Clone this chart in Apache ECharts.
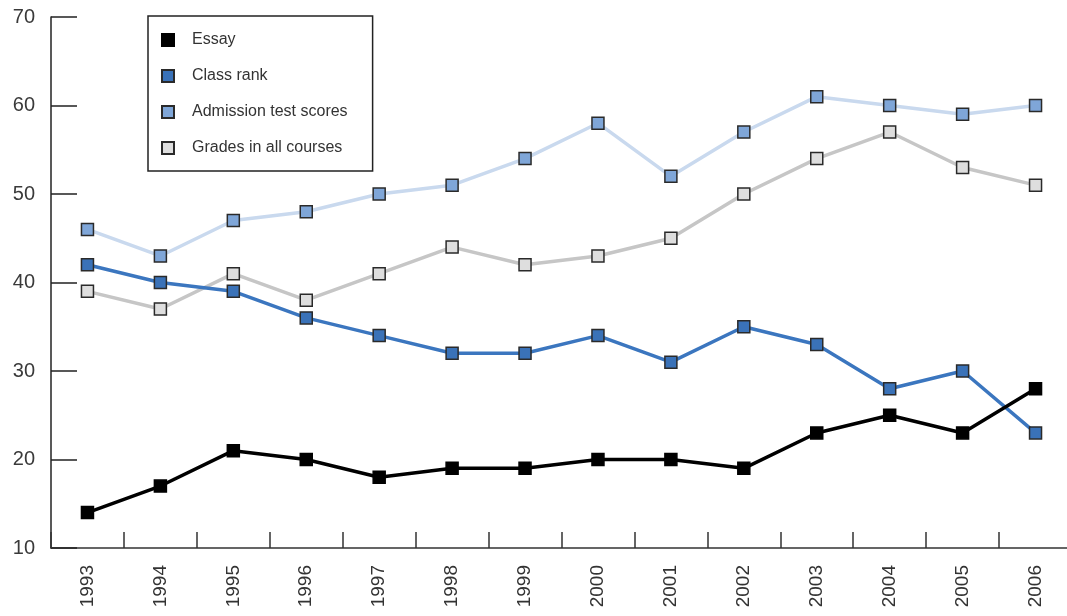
<!DOCTYPE html>
<html>
<head>
<meta charset="utf-8">
<title>Admission factors</title>
<script src="https://cdn.jsdelivr.net/npm/echarts@6/dist/echarts.min.js"></script>
<style>
  html, body { margin: 0; padding: 0; background: #fff; overflow: hidden; }
  #chart { width: 1072px; height: 616px; }
</style>
</head>
<body>
<div id="chart"></div>
<script>
var years = ['1993','1994','1995','1996','1997','1998','1999','2000','2001','2002','2003','2004','2005','2006'];
var essay = [14, 17, 21, 20, 18, 19, 19, 20, 20, 19, 23, 25, 23, 28];
var classRank = [42, 40, 39, 36, 34, 32, 32, 34, 31, 35, 33, 28, 30, 23];
var admissionTest = [46, 43, 47, 48, 50, 51, 54, 58, 52, 57, 61, 60, 59, 60];
var grades = [39, 37, 41, 38, 41, 44, 42, 43, 45, 50, 54, 57, 53, 51];

// chart is a few px wider than the window so the last category boundary falls off the edge
var myChart = echarts.init(document.getElementById('chart'));

function mkSeries(name, data, lineColor, fill, border, z) {
    return {
        name: name,
        type: 'line',
        data: data,
        symbol: 'rect',
        symbolSize: 12,
        z: z,
        lineStyle: { color: lineColor, width: 3.5 },
        itemStyle: { color: fill, borderColor: border, borderWidth: 1.5 },
        emphasis: { disabled: true }
    };
}

var option = {
    animation: false,
    textStyle: { fontFamily: 'Liberation Sans, Arial, sans-serif' },
    grid: { left: 51, right: 0, top: 17, bottom: 68, containLabel: false },
    legend: {
        orient: 'vertical',
        left: 148,
        top: 16,
        padding: [16, 25, 15, 13],
        itemGap: 20,
        itemWidth: 12,
        itemHeight: 12,
        icon: 'rect',
        borderColor: '#222',
        borderWidth: 1.5,
        textStyle: { fontSize: 16, color: '#333', lineHeight: 16, padding: [0, 0, 0, 13] },
        data: ['Essay', 'Class rank', 'Admission test scores', 'Grades in all courses']
    },
    xAxis: {
        type: 'category',
        data: years,
        boundaryGap: true,
        axisLine: { lineStyle: { color: '#333', width: 1.5 } },
        axisTick: { show: true, inside: true, length: 16, interval: 0, alignWithLabel: false, lineStyle: { color: '#333', width: 1.5 } },
        axisLabel: { rotate: 90, fontSize: 19, color: '#333', margin: 17, interval: 0 },
        splitLine: { show: false }
    },
    yAxis: {
        type: 'value',
        min: 10,
        max: 70,
        interval: 10,
        axisLine: { show: true, lineStyle: { color: '#222', width: 1.5 } },
        axisTick: { show: true, inside: true, length: 26, lineStyle: { color: '#222', width: 1.5 } },
        axisLabel: { fontSize: 20, color: '#3a3a3a', margin: 16 },
        splitLine: { show: false }
    },
    series: [
        mkSeries('Admission test scores', admissionTest, '#c9d9ee', '#7fa6d8', '#2a2a2a', 2),
        mkSeries('Grades in all courses', grades, '#c6c6c6', '#dedede', '#2a2a2a', 3),
        mkSeries('Class rank', classRank, '#3b76bf', '#3a72b8', '#2a2a2a', 4),
        mkSeries('Essay', essay, '#000', '#000', '#000', 5)
    ]
};

myChart.setOption(option);
</script>
</body>
</html>
